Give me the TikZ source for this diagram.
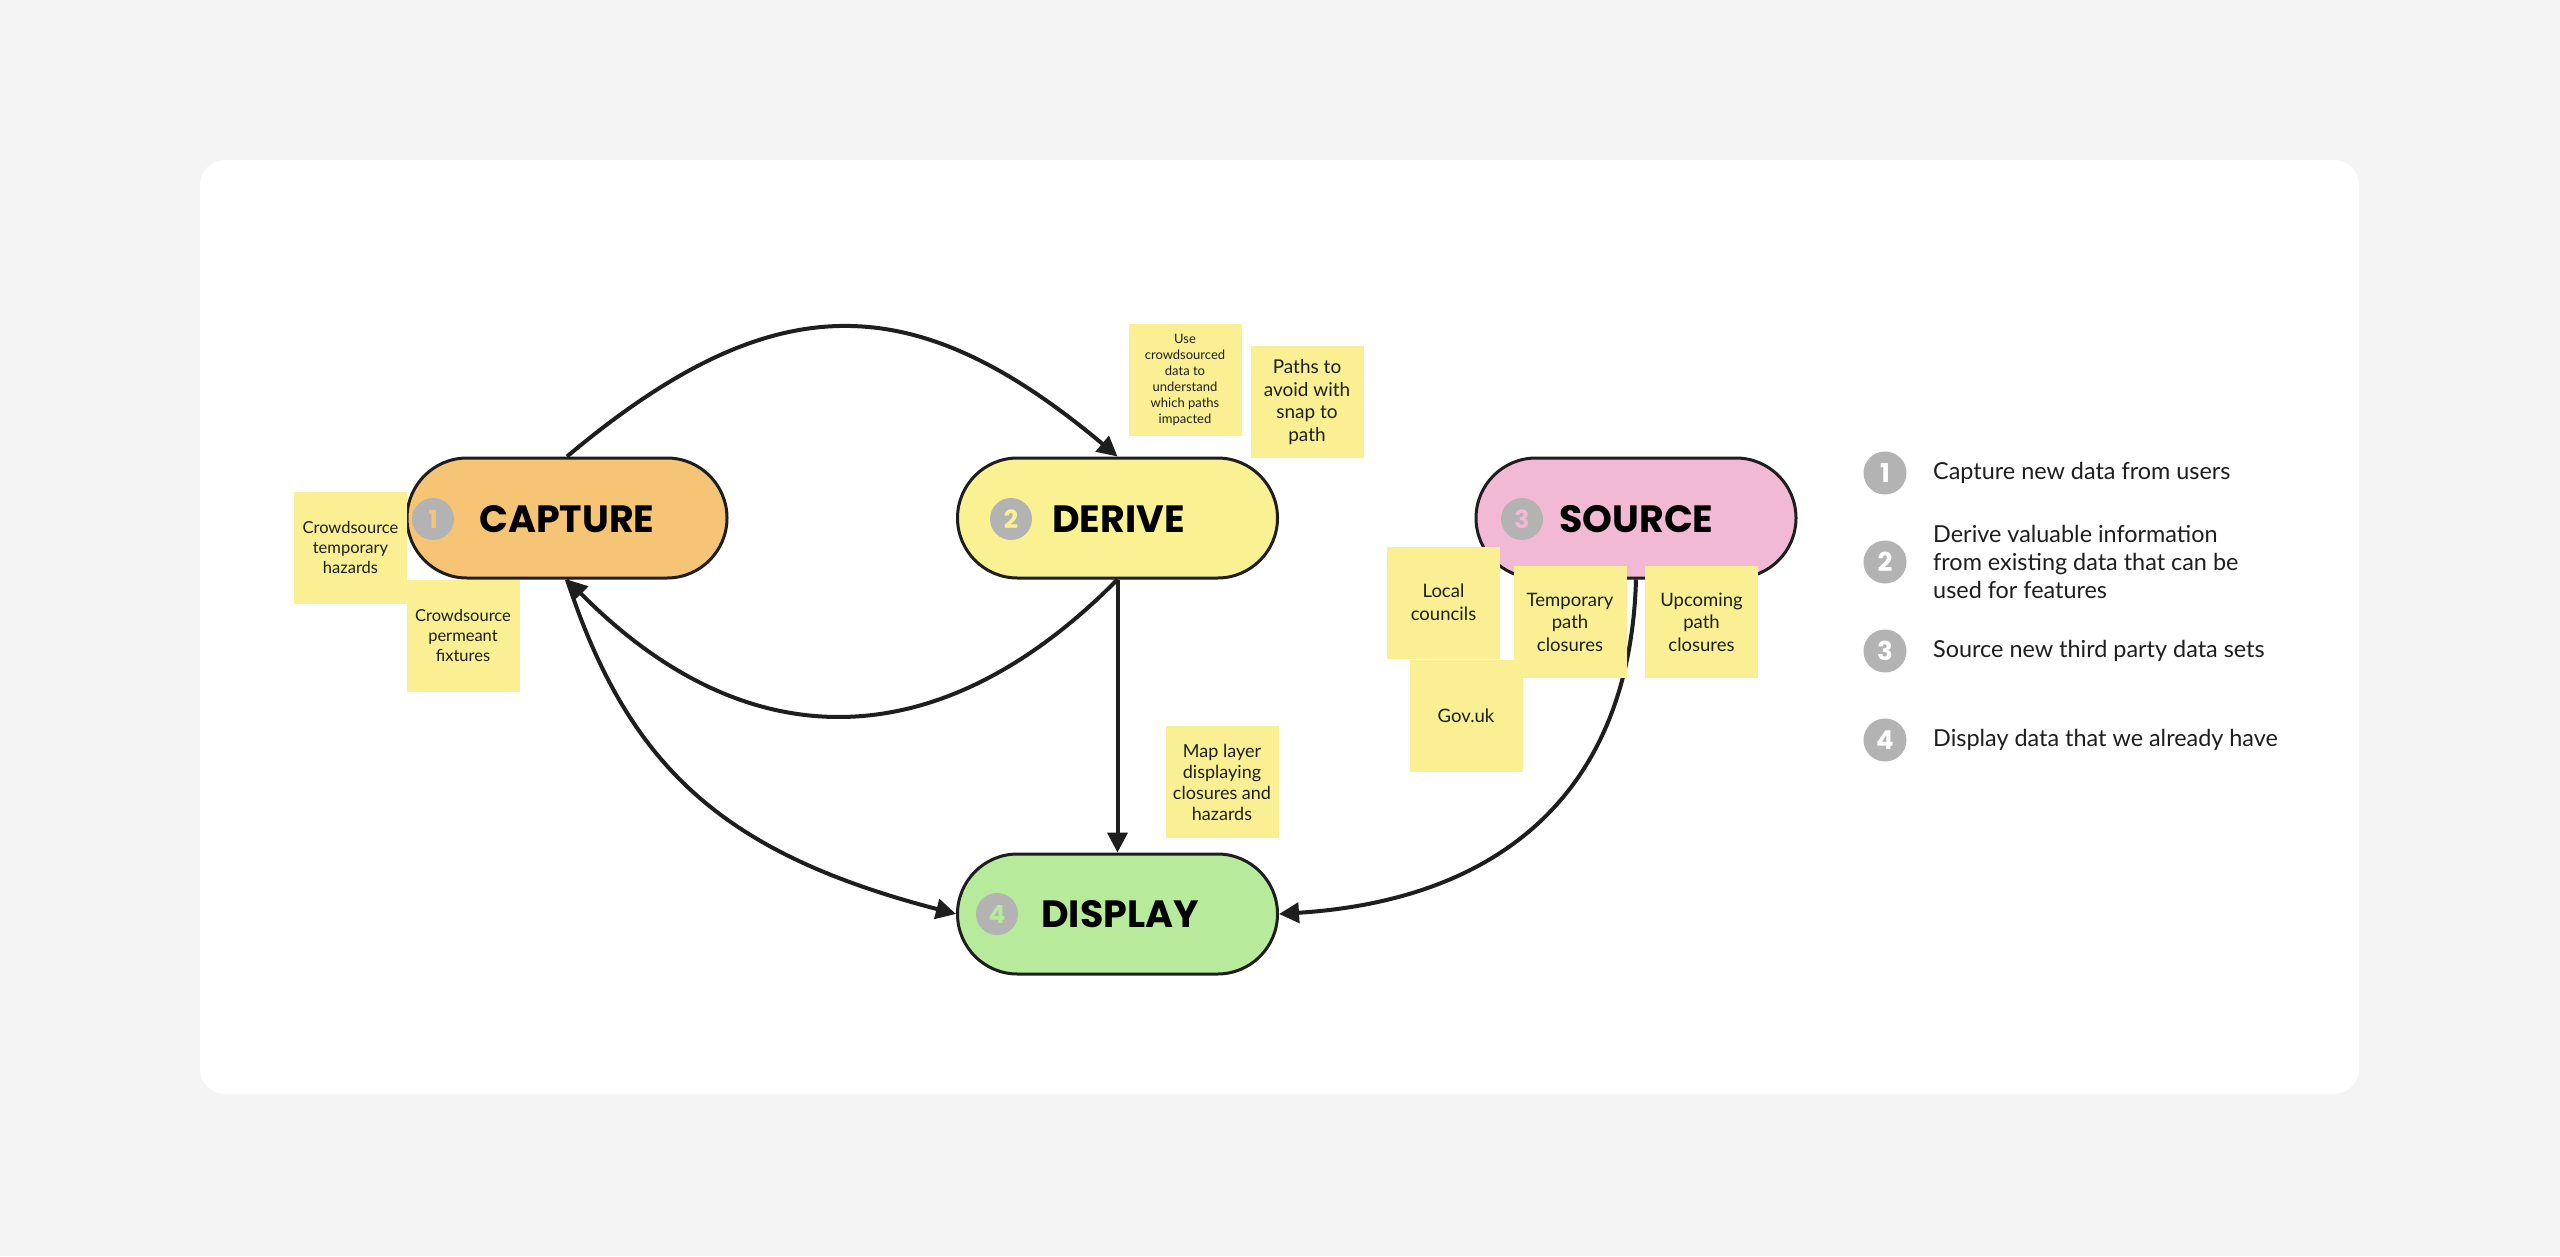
\documentclass[tikz,border=0pt]{standalone}
\usepackage{fontspec}
\setmainfont{Lato}
\newfontfamily\titlefont{Poppins}
\usetikzlibrary{arrows.meta}
\definecolor{bgc}{HTML}{F4F4F4}
\definecolor{linec}{HTML}{1E1E1E}
\definecolor{textc}{HTML}{1E1E1E}
\definecolor{capc}{HTML}{F5C475}
\definecolor{derc}{HTML}{F9F192}
\definecolor{srcc}{HTML}{F2B9D4}
\definecolor{disc}{HTML}{B8EA9C}
\definecolor{stickyc}{HTML}{FAF093}
\definecolor{numgray}{HTML}{B3B3B3}
\tikzset{
  stage/.style={draw=linec, line width=3pt, rounded corners=60pt, minimum width=320pt, minimum height=120pt, inner sep=0pt},
  numc/.style={circle, fill=numgray, minimum size=42pt, inner sep=0pt, font=\titlefont\bfseries\fontsize{25}{25}\selectfont},
  stitle/.style={anchor=west, inner sep=0pt, text=black, font=\titlefont\bfseries\fontsize{38}{38}\selectfont},
  sticky/.style={fill=stickyc, minimum width=113pt, minimum height=112pt, inner sep=2pt, align=center, text=textc},
  conn/.style={draw=linec, line width=4pt, -{Triangle[length=20pt,width=20pt]}},
  legc/.style={circle, fill=numgray, minimum size=43pt, inner sep=0pt, text=white, font=\titlefont\bfseries\fontsize{26}{26}\selectfont},
  legt/.style={anchor=west, inner sep=0pt, align=left, text=textc, font=\fontsize{23.4}{27.7}\selectfont}
}
\begin{document}
\begin{tikzpicture}[x=1pt,y=-1pt]
\fill[bgc] (0,0) rectangle (2560,1256);
\useasboundingbox (0,0) rectangle (2560,1256);
\fill[white, rounded corners=25pt] (200,160) rectangle (2359,1094);

% stages
\node[stage, fill=capc] (cap) at (567,518) {};
\node[stage, fill=derc] (der) at (1117.5,518) {};
\node[stage, fill=srcc] (src) at (1636,518) {};
\node[stage, fill=disc] (dis) at (1117.5,914) {};

\node[numc, text=capc] (n1) at (433,519) {1};
\node[numc, text=derc] (n2) at (1011,519) {2};
\node[numc, text=srcc] (n3) at (1522,519) {3};
\node[numc, text=disc] (n4) at (997,914) {4};

\node[stitle] (t1) at (479,519) {CAPTURE};
\node[stitle] (t2) at (1052,519) {DERIVE};
\node[stitle] (t3) at (1559,519) {SOURCE};
\node[stitle] (t4) at (1041,914) {DISPLAY};

% connectors
\draw[conn] (cap.north) .. controls +(205,-172) and +(-205,-172) .. (der.north);
\draw[conn] (der.south) .. controls +(-179,181) and +(179,181) .. (cap.south);
\draw[conn] (der.south) -- (dis.north);
\draw[conn] (cap.south) .. controls +(62,190) and +(-230,-60) .. (dis.west);
\draw[conn] (src.south) .. controls +(-6,212) and +(222,-14) .. (dis.east);

% sticky notes
\node[sticky, font=\fontsize{16.5}{20}\selectfont] (s1) at (350.5,547.5) {Crowdsource\\temporary\\hazards};
\node[sticky, font=\fontsize{16.5}{20}\selectfont] (s2) at (463,635.5) {Crowdsource\\permeant\\fixtures};
\node[sticky, font=\fontsize{13}{16}\selectfont] (s3) at (1185,380) {Use\\crowdsourced\\data to\\understand\\which paths\\impacted};
\node[sticky, font=\fontsize{19}{22.7}\selectfont] (s4) at (1307,402) {Paths to\\avoid with\\snap to\\path};
\node[sticky, font=\fontsize{18.5}{23}\selectfont] (s6) at (1466,715.5) {Gov.uk};
\node[sticky, font=\fontsize{18.5}{23}\selectfont] (s5) at (1443.5,602.5) {Local\\councils};
\node[sticky, font=\fontsize{18.5}{22.5}\selectfont] (s7) at (1570,622) {Temporary\\path\\closures};
\node[sticky, font=\fontsize{18.5}{22.5}\selectfont] (s8) at (1701.5,622) {Upcoming\\path\\closures};
\node[sticky, font=\fontsize{18}{21}\selectfont] (s9) at (1222,782) {Map layer\\displaying\\closures and\\hazards};

% legend
\node[legc] (l1c) at (1885,473) {1};
\node[legc] (l2c) at (1885,562) {2};
\node[legc] (l3c) at (1885,651) {3};
\node[legc] (l4c) at (1885,740) {4};
\node[legt] (l1t) at (1933,473) {Capture new data from users};
\node[legt] (l2t) at (1933,562) {Derive valuable information\\from existing data that can be\\used for features};
\node[legt] (l3t) at (1933,651) {Source new third party data sets};
\node[legt] (l4t) at (1933,740) {Display data that we already have};
\end{tikzpicture}
\end{document}
